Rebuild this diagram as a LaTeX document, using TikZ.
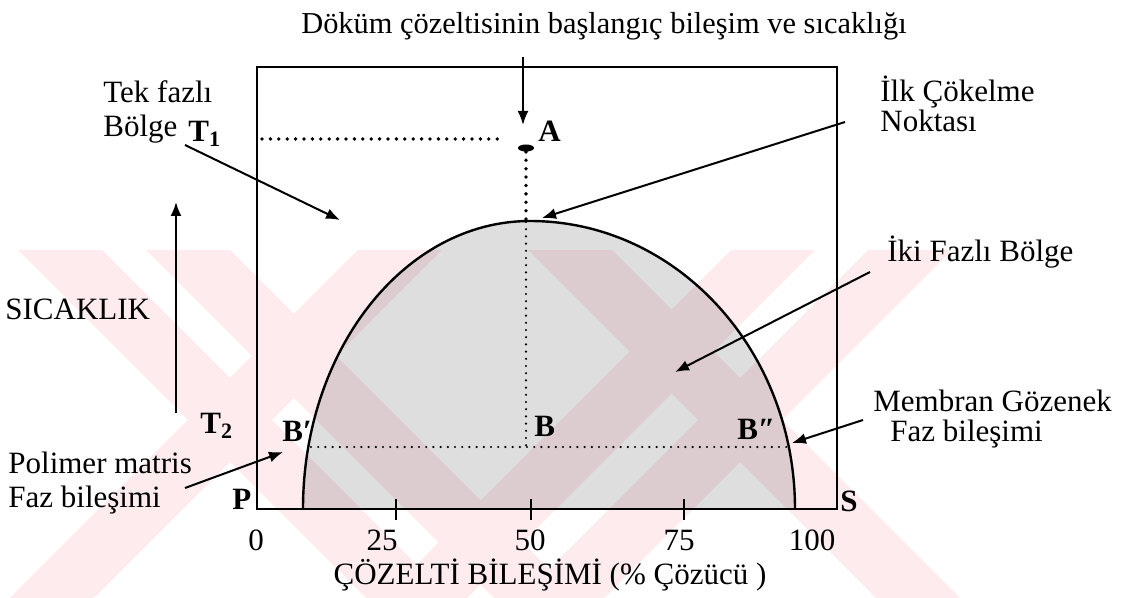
\documentclass[tikz,border=0pt]{standalone}
\usepackage{fontspec}
\setmainfont{Liberation Serif}
\usetikzlibrary{arrows.meta,shapes.geometric}
\definecolor{wm}{RGB}{253,235,238}
\begin{document}
\begin{tikzpicture}[x=0.5pt,y=-0.5pt,
  lbl/.style={inner sep=0pt, font=\fontsize{15.5}{18}\selectfont},
  blbl/.style={inner sep=0pt, font=\fontsize{15.5}{18}\selectfont\bfseries},
  arr/.style={line width=1pt, -{Latex[length=7pt,width=5.5pt]}},
  bigdots/.style={line width=1.9pt, dash pattern=on 0pt off 4.2pt, line cap=round},
  smalldots/.style={line width=1.2pt, dash pattern=on 0pt off 3.6pt, line cap=round},
  frame/.style={line width=1.3pt},
  tick/.style={line width=1.2pt}
]
\useasboundingbox (0,0) rectangle (1131,598);
% watermark
\begin{scope}
\clip (0,250) rectangle (1131,598);
\fill[wm] (18,250) -- (102,250) -- (450,598) -- (366,598) -- cycle;
\fill[wm] (358,250) -- (442,250) -- (94,598) -- (10,598) -- cycle;
\fill[wm] (146,250) -- (230,250) -- (578,598) -- (494,598) -- cycle;
\fill[wm] (528,250) -- (612,250) -- (960,598) -- (876,598) -- cycle;
\fill[wm] (868,250) -- (952,250) -- (604,598) -- (520,598) -- cycle;
\fill[wm] (731,250) -- (815,250) -- (467,598) -- (383,598) -- cycle;
\end{scope}
% dome (two elliptical quarter arcs)
\fill[black, fill opacity=0.13] (303,509) arc[start angle=180, end angle=90, x radius=113.5pt, y radius=144pt] arc[start angle=90, end angle=0, x radius=132.5pt, y radius=144pt] -- cycle;
\draw[line width=1.2pt] (303,509) arc[start angle=180, end angle=90, x radius=113.5pt, y radius=144pt] arc[start angle=90, end angle=0, x radius=132.5pt, y radius=144pt];
% frame
\draw[frame] (257,67) rectangle (837,509);
\draw[tick] (396,499) -- (396,520);
\draw[tick] (531,499) -- (531,520);
\draw[tick] (684,499) -- (684,520);
% point A and dotted lines
\node[ellipse, fill=black, minimum width=8pt, minimum height=3.5pt, inner sep=0pt] (Apt) at (526,148) {};
\coordinate (T1end) at (262,139);
\coordinate (T1start) at (502,139);
\coordinate (domeTop) at (526,222);
\coordinate (Bpt) at (526,447);
\coordinate (Bl) at (311,447);
\coordinate (Br) at (788,447);
\draw[bigdots] (T1end) -- (T1start);
\draw[bigdots] (Apt.south) -- (domeTop);
\draw[smalldots] (domeTop) -- (Bpt);
\draw[smalldots] (Bl) -- (Br);
% title and its arrow
\node[lbl, anchor=base, font=\fontsize{15.2}{18}\selectfont] (title) at (604,34) {Döküm çözeltisinin başlangıç bileşim ve sıcaklığı};
\coordinate (titleArr) at (523,57);
\coordinate (Atop) at (523,125);
\draw[arr] (titleArr) -- (Atop);
% labels
\node[blbl, anchor=base west] (A) at (538,142) {A};
\node[lbl, anchor=base west] (tek1) at (103,103) {Tek fazlı};
\node[lbl, anchor=base west] (tek2) at (103,137) {Bölge};
\node[blbl, anchor=base west] (T1) at (188,142) {T\raisebox{-0.35ex}{\fontsize{11}{11}\selectfont 1}};
\node[lbl, anchor=base west] (sic) at (5,320) {SICAKLIK};
\node[blbl, anchor=base west] (T2) at (200,434) {T\raisebox{-0.35ex}{\fontsize{11}{11}\selectfont 2}};
\node[blbl, anchor=base west] (Bp) at (282,442) {B′};
\node[blbl, anchor=base west] (B) at (534,437) {B};
\node[blbl, anchor=base west] (Bpp) at (737,440) {B″};
\node[blbl, anchor=base west] (P) at (232,510) {P};
\node[blbl, anchor=base west] (S) at (840,512) {S};
\node[lbl, anchor=base] (n0) at (256,551) {0};
\node[lbl, anchor=base] (n25) at (382,551) {25};
\node[lbl, anchor=base] (n50) at (530,551) {50};
\node[lbl, anchor=base] (n75) at (679,551) {75};
\node[lbl, anchor=base] (n100) at (812,551) {100};
\node[lbl, anchor=base] (xlab) at (550,585) {ÇÖZELTİ BİLEŞİMİ (\% Çözücü )};
\node[lbl, anchor=base west] (pol1) at (8,474) {Polimer matris};
\node[lbl, anchor=base west] (pol2) at (8,508) {Faz bileşimi};
\node[lbl, anchor=base west] (mem1) at (873,412) {Membran Gözenek};
\node[lbl, anchor=base west] (mem2) at (890,442) {Faz bileşimi};
\node[lbl, anchor=base west] (ilk1) at (880,102) {İlk Çökelme};
\node[lbl, anchor=base west] (ilk2) at (880,132) {Noktası};
\node[lbl, anchor=base west] (iki) at (887,262) {İki Fazlı Bölge};
% arrows
\coordinate (tekS) at (185,145);
\coordinate (tekE) at (340,220);
\draw[arr] (tekS) -- (tekE);
\coordinate (upS) at (176,413);
\coordinate (upE) at (176,202);
\draw[arr] (upS) -- (upE);
\coordinate (polS) at (185,488);
\coordinate (polE) at (283,452);
\draw[arr] (polS) -- (polE);
\coordinate (memS) at (863,420);
\coordinate (memE) at (792,443);
\draw[arr] (memS) -- (memE);
\coordinate (ilkS) at (845,122);
\coordinate (ilkE) at (542,218);
\draw[arr] (ilkS) -- (ilkE);
\coordinate (ikiS) at (870,272);
\coordinate (ikiE) at (675,372);
\draw[arr] (ikiS) -- (ikiE);
\end{tikzpicture}
\end{document}
